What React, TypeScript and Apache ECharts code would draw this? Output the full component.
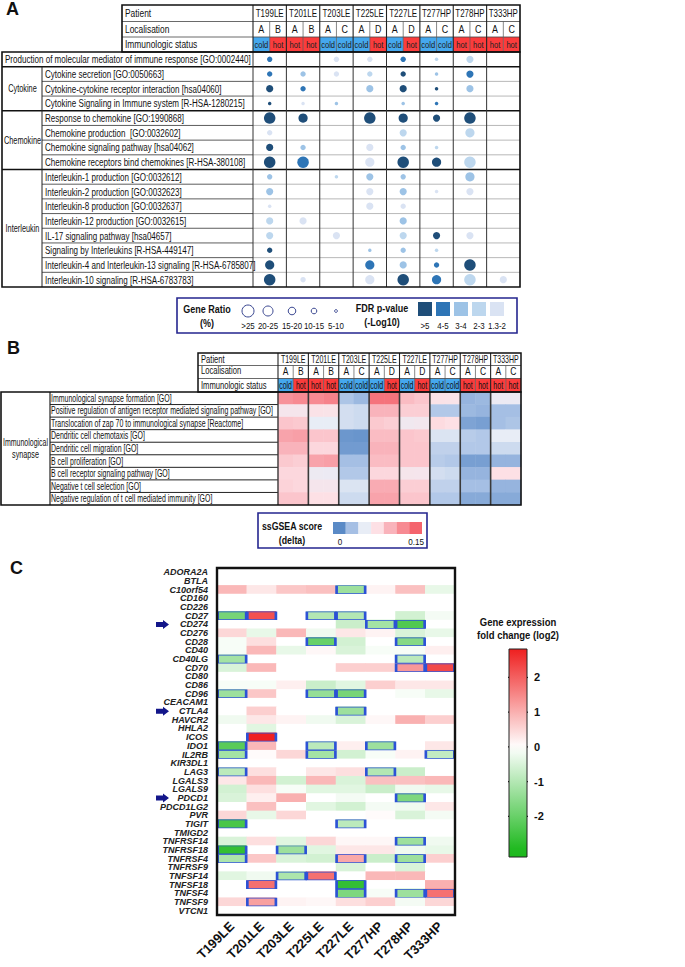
import React, { useEffect, useRef } from 'react';
import * as echarts from 'echarts';

// ---------------- DATA ----------------
const patients = ['T199LE', 'T201LE', 'T203LE', 'T225LE', 'T227LE', 'T277HP', 'T278HP', 'T333HP'];
const localisations = ['A', 'B', 'A', 'B', 'A', 'C', 'A', 'D', 'A', 'D', 'A', 'C', 'A', 'C', 'A', 'C'];
const statuses = ['cold', 'hot', 'hot', 'hot', 'cold', 'cold', 'cold', 'hot', 'cold', 'hot', 'cold', 'cold', 'hot', 'hot', 'hot', 'hot'];

const termsA = [
  'Production of molecular mediator of immune response [GO:0002440]',
  'Cytokine secretion [GO:0050663]',
  'Cytokine-cytokine receptor interaction [hsa04060]',
  'Cytokine Signaling in Immune system [R-HSA-1280215]',
  'Response to chemokine [GO:1990868]',
  'Chemokine production  [GO:0032602]',
  'Chemokine signaling pathway [hsa04062]',
  'Chemokine receptors bind chemokines [R-HSA-380108]',
  'Interleukin-1 production [GO:0032612]',
  'Interleukin-2 production [GO:0032623]',
  'Interleukin-8 production [GO:0032637]',
  'Interleukin-12 production [GO:0032615]',
  'IL-17 signaling pathway [hsa04657]',
  'Signaling by Interleukins [R-HSA-449147]',
  'Interleukin-4 and Interleukin-13 signaling [R-HSA-6785807]',
  'Interleukin-10 signaling [R-HSA-6783783]',
];
const groupsA = [
  { name: '', from: 0, to: 0 },
  { name: 'Cytokine', from: 1, to: 3 },
  { name: 'Chemokine', from: 4, to: 7 },
  { name: 'Interleukin', from: 8, to: 15 },
];
// gene ratio class: 5 = >25, 4 = 20-25, 3 = 15-20, 2 = 10-15, 1 = 5-10, 0 = none
const ratioClass = [
  [2, 0, 2, 2, 2, 1, 3, 0],
  [2, 2, 2, 2, 2, 1, 3, 0],
  [3, 2, 0, 3, 3, 1, 3, 0],
  [1, 1, 1, 0, 1, 1, 0, 0],
  [5, 4, 0, 5, 4, 3, 5, 0],
  [2, 0, 0, 0, 3, 0, 4, 0],
  [3, 2, 0, 3, 2, 1, 0, 0],
  [5, 5, 0, 4, 5, 4, 5, 0],
  [2, 0, 1, 3, 2, 0, 4, 0],
  [3, 0, 0, 3, 3, 1, 3, 0],
  [1, 0, 0, 3, 2, 0, 0, 0],
  [3, 3, 0, 0, 3, 0, 0, 0],
  [3, 0, 3, 0, 3, 3, 3, 0],
  [2, 0, 0, 1, 2, 1, 0, 0],
  [4, 0, 0, 4, 3, 2, 5, 0],
  [5, 2, 0, 4, 5, 4, 5, 3],
];
// FDR class: 5 = >5, 4 = 4-5, 3 = 3-4, 2 = 2-3, 1 = 1.3-2
const fdrClass = [
  [4, 0, 1, 1, 4, 2, 2, 0],
  [4, 3, 1, 2, 5, 3, 4, 0],
  [5, 4, 0, 3, 5, 5, 3, 0],
  [5, 1, 3, 0, 3, 4, 0, 0],
  [5, 5, 0, 5, 5, 5, 5, 0],
  [1, 0, 0, 0, 2, 0, 2, 0],
  [5, 3, 0, 1, 3, 2, 0, 0],
  [5, 4, 0, 1, 5, 5, 2, 0],
  [3, 0, 2, 3, 3, 0, 3, 0],
  [3, 0, 0, 1, 3, 1, 1, 0],
  [1, 0, 0, 1, 1, 0, 0, 0],
  [2, 1, 0, 0, 3, 0, 0, 0],
  [2, 0, 1, 0, 2, 5, 1, 0],
  [5, 0, 0, 3, 3, 2, 0, 0],
  [5, 0, 0, 4, 3, 4, 5, 0],
  [5, 1, 0, 1, 5, 4, 2, 1],
];
const ratioLegend = ['>25', '20-25', '15-20', '10-15', '5-10'];
const fdrLegend = ['>5', '4-5', '3-4', '2-3', '1.3-2'];

const termsB = [
  'Immunological synapse formation [GO]',
  'Positive regulation of antigen receptor mediated signaling pathway [GO]',
  'Translocation of zap 70 to immunological synapse [Reactome]',
  'Dendritic cell chemotaxis [GO]',
  'Dendritic cell migration [GO]',
  'B cell proliferation [GO]',
  'B cell receptor signaling pathway [GO]',
  'Negative t cell selection [GO]',
  'Negative regulation of t cell mediated immunity [GO]',
];
const ssgsea = [
  [0.12, 0.125, 0.125, 0.13, 0.028, 0.022, 0.14, 0.14, 0.095, 0.09, 0.072, 0.07, 0.02, 0.022, 0.055, 0.055],
  [0.065, 0.065, 0.072, 0.07, 0.042, 0.04, 0.1, 0.1, 0.085, 0.085, 0.03, 0.03, 0.022, 0.02, 0.025, 0.025],
  [0.09, 0.088, 0.05, 0.05, 0.042, 0.04, 0.088, 0.085, 0.06, 0.062, 0.078, 0.075, 0.012, 0.01, 0.025, 0.028],
  [0.11, 0.112, 0.09, 0.09, 0.006, 0.005, 0.095, 0.095, 0.09, 0.088, 0.045, 0.045, 0.032, 0.03, 0.05, 0.05],
  [0.1, 0.1, 0.08, 0.08, 0.008, 0.008, 0.1, 0.1, 0.09, 0.09, 0.035, 0.035, 0.03, 0.03, 0.04, 0.04],
  [0.088, 0.085, 0.11, 0.112, 0.025, 0.025, 0.095, 0.095, 0.09, 0.09, 0.032, 0.03, 0.01, 0.01, 0.02, 0.02],
  [0.08, 0.08, 0.056, 0.055, 0.03, 0.03, 0.08, 0.08, 0.066, 0.065, 0.042, 0.04, 0.02, 0.02, 0.075, 0.075],
  [0.082, 0.08, 0.065, 0.065, 0.045, 0.045, 0.105, 0.105, 0.085, 0.085, 0.035, 0.035, 0.025, 0.025, 0.02, 0.02],
  [0.09, 0.09, 0.075, 0.075, 0.04, 0.04, 0.11, 0.11, 0.09, 0.09, 0.03, 0.03, 0.015, 0.015, 0.015, 0.015],
];
const ssgseaColors = ['#5a8ac6', '#a5bfe4', '#e8edf6', '#fde0e5', '#f9b3bb', '#f78a92', '#f4646d'];

const genes = [
  'ADORA2A', 'BTLA', 'C10orf54', 'CD160', 'CD226', 'CD27', 'CD274', 'CD276', 'CD28', 'CD40',
  'CD40LG', 'CD70', 'CD80', 'CD86', 'CD96', 'CEACAM1', 'CTLA4', 'HAVCR2', 'HHLA2', 'ICOS',
  'IDO1', 'IL2RB', 'KIR3DL1', 'LAG3', 'LGALS3', 'LGALS9', 'PDCD1', 'PDCD1LG2', 'PVR', 'TIGIT',
  'TMIGD2', 'TNFRSF14', 'TNFRSF18', 'TNFRSF4', 'TNFRSF9', 'TNFSF14', 'TNFSF18', 'TNFSF4', 'TNFSF9', 'VTCN1',
];
const foldChange = [
  [0, 0, 0, 0, 0, 0, 0, 0],
  [0, 0, 0, 0, 0, 0, 0, 0],
  [0.9, 0.3, 0.7, 0.8, -1.3, 0.15, 0.8, -0.3],
  [0, 0, 0, 0, 0, 0, 0, 0],
  [0, 0, 0, 0, 0, 0, 0, 0],
  [-1.8, 2.2, 0, -1.0, -1.0, 0, -0.6, -0.15],
  [0, 0, 0, 0, -0.7, -1.2, -2.3, 0],
  [0.5, -0.3, 0.9, -0.2, 0.3, 0.15, -0.5, -0.3],
  [-0.1, 0.4, 0, -2.0, -0.6, 0, -1.6, 0],
  [-0.1, 0.9, -0.3, 0.1, -0.5, -0.1, -0.1, 0.2],
  [-1.2, 0, 0, 0, 0, 0, -0.9, 0],
  [-0.5, 0.9, 0, 0, 0.6, 0.6, 1.3, 2.3],
  [0, 0, 0, 0, 0, 0, 0, 0],
  [-0.1, -0.1, 0.2, -0.7, -0.4, 0.6, 0.3, 0.3],
  [-1.3, 0.7, 0, -1.4, -1.8, 0, -0.1, -0.3],
  [0, 0, 0, 0, 0, 0, 0, 0],
  [0, 0.6, 0, 0, -1.3, 0, 0, 0],
  [-0.2, 0.3, 0.15, -0.2, -0.5, 0.1, 1.0, 0.6],
  [0, -0.4, 0, 0, 0, 0, 0, 0],
  [0, 2.8, 0, 0, 0, 0, 0, 0],
  [-2.2, 0.9, 0, -0.9, 0.2, -1.3, 0, 0.3],
  [-1.2, 0.05, 0.5, -1.2, -0.6, -0.1, 0.15, -0.8],
  [0, 0, 0, 0, 0, 0, 0, 0],
  [-0.9, 0.4, 0, 0.3, 0.4, -1.0, -0.7, 0],
  [0.3, 0.9, -0.6, 0.9, -0.5, 0.8, 0.8, 0.9],
  [-0.6, 0.4, -0.1, -0.4, -0.4, -0.7, -0.2, -0.3],
  [-0.5, 0.2, 1.0, 0, -0.15, 0, -1.7, 0],
  [0, 0.8, 0, -0.4, -0.6, -0.15, -0.2, 0.3],
  [0.5, -0.3, 0.5, 0, 0, 0.05, -0.5, -0.15],
  [-2.4, 0, 0, 0, -0.9, 0, 0, 0],
  [0, 0, 0, 0, 0, 0, 0, 0],
  [-0.5, 0.4, -0.4, 0.5, 0.1, 0.1, -1.3, -0.2],
  [-2.7, 0, -1.3, -0.4, 0.3, 0.3, -0.2, -0.3],
  [-1.1, 0.7, -0.5, -0.6, 1.1, -0.7, -1.3, 0.6],
  [0, 0, 0, 0, -0.5, 0, -0.5, 0],
  [-0.4, -0.2, -1.1, 1.8, 0, 0.9, 0.9, 0],
  [0, 1.8, 0, 0, -2.7, 0, 0, 1.0],
  [0, 0, 0, 0, -1.7, -0.1, -1.3, 1.8],
  [0.5, 1.2, 0.15, 0.1, 0.4, 0.6, -0.15, 0.5],
  [0, 0, 0, 0, 0, 0, 0, 0],
];
const significant: [string, string][] = [
  ['C10orf54', 'T227LE'],
  ['CD27', 'T199LE'], ['CD27', 'T201LE'], ['CD27', 'T225LE'], ['CD27', 'T227LE'],
  ['CD274', 'T277HP'], ['CD274', 'T278HP'],
  ['CD28', 'T225LE'], ['CD28', 'T278HP'],
  ['CD40LG', 'T199LE'], ['CD40LG', 'T278HP'],
  ['CD70', 'T278HP'], ['CD70', 'T333HP'],
  ['CD96', 'T199LE'], ['CD96', 'T225LE'], ['CD96', 'T227LE'],
  ['CTLA4', 'T227LE'],
  ['ICOS', 'T201LE'],
  ['IDO1', 'T199LE'], ['IDO1', 'T225LE'], ['IDO1', 'T277HP'],
  ['IL2RB', 'T199LE'], ['IL2RB', 'T225LE'], ['IL2RB', 'T333HP'],
  ['LAG3', 'T199LE'], ['LAG3', 'T277HP'],
  ['PDCD1', 'T278HP'],
  ['TIGIT', 'T199LE'], ['TIGIT', 'T227LE'],
  ['TNFRSF14', 'T278HP'],
  ['TNFRSF18', 'T199LE'], ['TNFRSF18', 'T203LE'],
  ['TNFRSF4', 'T199LE'], ['TNFRSF4', 'T227LE'], ['TNFRSF4', 'T278HP'],
  ['TNFSF14', 'T203LE'], ['TNFSF14', 'T225LE'],
  ['TNFSF18', 'T201LE'], ['TNFSF18', 'T227LE'],
  ['TNFSF4', 'T227LE'], ['TNFSF4', 'T278HP'], ['TNFSF4', 'T333HP'],
  ['TNFSF9', 'T201LE'],
];
const arrowGenes = ['CD274', 'CTLA4', 'PDCD1'];
const colorbarTicks = [2, 1, 0, -1, -2];

// ---------------- STYLE / LAYOUT ----------------
const FONT = '"Liberation Sans", Arial, sans-serif';
const COLD = '#45a8ee';
const HOT = '#fb3c3c';
const DOT_SIZE = [0, 3.5, 5.4, 7.2, 9.2, 11.5];
const DOT_COLOR = ['#fff', '#dae3f3', '#bdd7ee', '#9dc3e6', '#2e75b6', '#1f4e79'];
const LEG_R = [6, 5, 3.8, 2.8, 1.4];

const GREEN = [28, 184, 28];
const WHITE = [255, 255, 255];
const RED = [238, 17, 17];
function heatColor(v: number) {
  const c = Math.max(-3, Math.min(3, v)) / 3;
  const a = c < 0 ? GREEN : RED;
  const t = Math.abs(c);
  const m = WHITE.map((w, i) => Math.round(w + (a[i] - w) * t));
  return `rgb(${m[0]},${m[1]},${m[2]})`;
}

// panel A
const AX0 = 2, AXL = 42, AXC = 253, AXR = 520, AHX = 122;
const ACW = (AXR - AXC) / 8;
const AH = [5, 21.5, 37, 52];
const ABY0 = 52, ABY1 = 287;
const ARH = (ABY1 - ABY0) / termsA.length;
// panel B
const BX0 = 1, BXL = 50, BXC = 278, BXR = 521, BHX = 198;
const BCW = (BXR - BXC) / 8;
const BH = [353, 365.5, 378.5, 392];
const BBY0 = 392, BBY1 = 505;
const BRH = (BBY1 - BBY0) / termsB.length;
// panel C
const CGL = 217, CGT = 568, CGW = 238, CGH = 347;
const CB = { x: 509, y: 649, w: 18, h: 208, max: 2.82, min: -3.17 };

function buildGraphics(arrowYs: number[]) {
  const els: any[] = [];
  const T = (x: number, y: number, text: string, o: any = {}) =>
    els.push({
      type: 'text', x, y, scaleX: o.sx ?? 1, z: 120, silent: true,
      style: {
        text, fontSize: o.fs ?? 10, fontFamily: FONT, fontWeight: o.fw ?? 'normal',
        fontStyle: o.fst ?? 'normal', fill: o.fill ?? '#111', align: o.align ?? 'left',
        verticalAlign: 'middle',
      },
    });
  const L = (x1: number, y1: number, x2: number, y2: number, stroke = '#000', w = 1) =>
    els.push({ type: 'line', z: 110, silent: true, shape: { x1, y1, x2, y2 }, style: { stroke, lineWidth: w } });
  const R = (x: number, y: number, w: number, h: number, fill: any, stroke?: string, lw?: number, z = 50) =>
    els.push({ type: 'rect', z, silent: true, shape: { x, y, width: w, height: h }, style: { fill, stroke, lineWidth: lw } });

  // ===== Panel labels =====
  T(6, 9, 'A', { fs: 18, fw: 'bold' });
  T(7, 348, 'B', { fs: 18, fw: 'bold' });
  T(10, 568, 'C', { fs: 18, fw: 'bold' });

  // ===== Panel A header =====
  statuses.forEach((s, i) => R(AXC + (i * ACW) / 2, AH[2], ACW / 2, AH[3] - AH[2], s === 'cold' ? COLD : HOT));
  T(AHX + 3, (AH[0] + AH[1]) / 2, 'Patient', { fs: 10.5, sx: 0.8 });
  T(AHX + 3, (AH[1] + AH[2]) / 2, 'Localisation', { fs: 10.5, sx: 0.8 });
  T(AHX + 3, (AH[2] + AH[3]) / 2, 'Immunologic status', { fs: 10.5, sx: 0.8 });
  patients.forEach((p, i) => T(AXC + (i + 0.5) * ACW, (AH[0] + AH[1]) / 2, p, { fs: 10.5, sx: 0.76, align: 'center' }));
  localisations.forEach((l, i) => T(AXC + (i + 0.5) * ACW / 2, (AH[1] + AH[2]) / 2, l, { fs: 10.5, sx: 0.85, align: 'center' }));
  statuses.forEach((s, i) => T(AXC + (i + 0.5) * ACW / 2, (AH[2] + AH[3]) / 2, s, { fs: 9.5, sx: 0.8, align: 'center', fill: '#222' }));
  for (let k = 1; k < 3; k++) L(AHX, AH[k], AXR, AH[k], '#444', 0.8);
  for (let i = 1; i < 16; i++) {
    const x = AXC + (i * ACW) / 2;
    L(x, i % 2 === 0 ? AH[0] : AH[1], x, AH[3], i % 2 === 0 ? '#222' : '#555', i % 2 === 0 ? 1.1 : 0.7);
  }
  L(AXC, AH[0], AXC, AH[3], '#222', 1.1);
  R(AHX, AH[0], AXR - AHX, AH[3] - AH[0], 'none', '#111', 1.6, 115);

  // ===== Panel A body =====
  const rowY = (r: number) => ABY0 + r * ARH;
  termsA.forEach((t, r) => T((r === 0 ? AX0 : AXL) + 3, rowY(r) + ARH / 2, t, { fs: 10.8, sx: 0.745 }));
  groupsA.forEach((g) => {
    if (g.name) T((AX0 + AXL) / 2 + 0.5, (rowY(g.from) + rowY(g.to + 1)) / 2, g.name, { fs: 10.5, sx: 0.7, align: 'center' });
  });
  const groupStarts = groupsA.map((g) => g.from);
  for (let r = 1; r < termsA.length; r++) {
    const y = rowY(r);
    if (groupStarts.includes(r)) L(AX0, y, AXR, y, '#111', 1.6);
    else {
      L(AXL, y, AXC, y, '#333', 0.8);
      L(AXC, y, AXR, y, '#999', 0.7);
    }
  }
  L(AXL, rowY(1), AXL, ABY1, '#222', 1);
  for (let i = 0; i < 8; i++) L(AXC + i * ACW, ABY0, AXC + i * ACW, ABY1, '#333', 1);
  R(AX0, ABY0, AXR - AX0, ABY1 - ABY0, 'none', '#111', 1.6, 115);

  // ===== Panel A legend =====
  R(177, 298, 340, 35, 'none', '#25268f', 1.6, 115);
  T(207, 309, 'Gene Ratio', { fs: 10, fw: 'bold', sx: 0.9, align: 'center' });
  T(207, 323, '(%)', { fs: 10, fw: 'bold', sx: 0.9, align: 'center' });
  const cx = [248, 268, 292, 314, 336];
  ratioLegend.forEach((lab, i) => {
    els.push({ type: 'circle', z: 120, silent: true, shape: { cx: cx[i], cy: 311, r: LEG_R[i] }, style: { fill: 'none', stroke: '#3a4791', lineWidth: 1 } });
    T(cx[i], 326, lab, { fs: 9, sx: 0.88, align: 'center' });
  });
  T(382, 308, 'FDR p-value', { fs: 10, fw: 'bold', sx: 0.9, align: 'center' });
  T(382, 322, '(-Log10)', { fs: 10, fw: 'bold', sx: 0.9, align: 'center' });
  fdrLegend.forEach((lab, i) => {
    const x = 418 + i * 18;
    R(x, 302, 14, 14, DOT_COLOR[5 - i], undefined, undefined, 120);
    T(x + 7, 326, lab, { fs: 9, sx: 0.88, align: 'center' });
  });

  // ===== Panel B header =====
  statuses.forEach((s, i) => R(BXC + (i * BCW) / 2, BH[2], BCW / 2, BH[3] - BH[2], s === 'cold' ? COLD : HOT));
  T(BHX + 3, (BH[0] + BH[1]) / 2, 'Patient', { fs: 10, sx: 0.76 });
  T(BHX + 3, (BH[1] + BH[2]) / 2 - 1, 'Localisation', { fs: 10, sx: 0.76 });
  T(BHX + 3, (BH[2] + BH[3]) / 2, 'Immunologic status', { fs: 10, sx: 0.76 });
  patients.forEach((p, i) => T(BXC + (i + 0.5) * BCW, (BH[0] + BH[1]) / 2, p, { fs: 10, sx: 0.7, align: 'center' }));
  localisations.forEach((l, i) => T(BXC + (i + 0.5) * BCW / 2, (BH[1] + BH[2]) / 2, l, { fs: 10, sx: 0.85, align: 'center' }));
  statuses.forEach((s, i) => T(BXC + (i + 0.5) * BCW / 2, (BH[2] + BH[3]) / 2, s, { fs: 10, sx: 0.7, align: 'center', fill: '#111' }));
  for (let k = 1; k < 3; k++) L(BHX, BH[k], BXR, BH[k], '#444', 0.8);
  for (let i = 1; i < 16; i++) {
    const x = BXC + (i * BCW) / 2;
    L(x, i % 2 === 0 ? BH[0] : BH[1], x, BH[3], i % 2 === 0 ? '#222' : '#555', i % 2 === 0 ? 1.1 : 0.7);
  }
  L(BXC, BH[0], BXC, BH[3], '#222', 1.1);
  R(BHX, BH[0], BXR - BHX, BH[3] - BH[0], 'none', '#111', 1.5, 115);

  // ===== Panel B body =====
  const rowYB = (r: number) => BBY0 + r * BRH;
  termsB.forEach((t, r) => T(BXL + 1, rowYB(r) + BRH / 2, t, { fs: 10.2, sx: 0.685 }));
  T((BX0 + BXL) / 2, (BBY0 + BBY1) / 2 - 6, 'Immunological', { fs: 10, sx: 0.7, align: 'center' });
  T((BX0 + BXL) / 2, (BBY0 + BBY1) / 2 + 6, 'synapse', { fs: 10, sx: 0.72, align: 'center' });
  for (let r = 1; r < termsB.length; r++) L(BXL, rowYB(r), BXC, rowYB(r), '#222', 1);
  L(BXL, BBY0, BXL, BBY1, '#222', 1.2);
  for (let i = 0; i < 8; i++) L(BXC + i * BCW, BBY0, BXC + i * BCW, BBY1, '#3a3a3a', i === 0 ? 1.4 : 1.6);
  R(BX0, BBY0, BXR - BX0, BBY1 - BBY0, 'none', '#111', 1.6, 115);

  // ===== Panel B legend =====
  R(258, 513, 169, 35, 'none', '#25268f', 1.6, 115);
  T(292, 526, 'ssGSEA score', { fs: 10, fw: 'bold', sx: 0.88, align: 'center' });
  T(292, 540, '(delta)', { fs: 10, fw: 'bold', sx: 0.88, align: 'center' });
  ssgseaColors.forEach((c, i) => R(333 + i * 12.7, 522, 12.8, 12, c, undefined, undefined, 120));
  T(340, 542, '0', { fs: 9, sx: 0.9, align: 'center' });
  T(416, 542, '0.15', { fs: 9, sx: 0.9, align: 'center' });

  // ===== Panel C border, arrows, colorbar =====
  R(CGL, CGT, CGW, CGH, 'none', '#111', 2.4, 115);
  arrowYs.forEach((y) => {
    els.push({
      type: 'polygon', z: 120, silent: true,
      shape: { points: [[156, y - 2.5], [163, y - 2.5], [163, y - 4.5], [169, y], [163, y + 4.5], [163, y + 2.5], [156, y + 2.5]] },
      style: { fill: '#13168a' },
    });
  });
  T(518, 622, 'Gene expression', { fs: 10, fw: 'bold', sx: 0.95, align: 'center' });
  T(518, 635, 'fold change (log2)', { fs: 10, fw: 'bold', sx: 0.95, align: 'center' });
  const stops: any[] = [];
  for (let k = 0; k <= 24; k++) {
    const v = CB.max - (k / 24) * (CB.max - CB.min);
    stops.push({ offset: k / 24, color: heatColor(v) });
  }
  R(CB.x, CB.y, CB.w, CB.h, { type: 'linear', x: 0, y: 0, x2: 0, y2: 1, colorStops: stops }, '#222', 1, 120);
  colorbarTicks.forEach((v) => {
    const y = CB.y + ((CB.max - v) / (CB.max - CB.min)) * CB.h;
    L(CB.x - 1, y, CB.x + 3, y, '#111', 1.2);
    L(CB.x + CB.w - 3, y, CB.x + CB.w + 1, y, '#111', 1.2);
    T(CB.x + CB.w + 7, y, String(v), { fs: 11, fw: 'bold' });
  });
  return els;
}

export default function App() {
  const ref = useRef<HTMLDivElement>(null);
  useEffect(() => {
    if (!ref.current) return;
    const chart = echarts.init(ref.current, undefined, { renderer: 'svg' });

    const dotData: any[] = [];
    ratioClass.forEach((row, r) =>
      row.forEach((s, p) => {
        if (s > 0) dotData.push([patients[p], termsA[r], s, fdrClass[r][p]]);
      })
    );
    const subCols = localisations.map((l, i) => `${patients[Math.floor(i / 2)]}-${l}`);
    const heatB: any[] = [];
    ssgsea.forEach((row, r) => row.forEach((v, c) => heatB.push([subCols[c], termsB[r], v])));
    const heatC: any[] = [];
    foldChange.forEach((row, g) => row.forEach((v, p) => heatC.push([patients[p], genes[g], v])));
    const sigData = significant.map(([g, p]) => [p, g]);

    const hidden = { show: false };
    const option: any = {
      animation: false,
      backgroundColor: '#ffffff',
      grid: [
        { left: AXC, top: ABY0, width: AXR - AXC, height: ABY1 - ABY0 },
        { left: BXC, top: BBY0, width: BXR - BXC, height: BBY1 - BBY0 },
        { left: CGL, top: CGT, width: CGW, height: CGH },
      ],
      xAxis: [
        { type: 'category', gridIndex: 0, data: patients, ...hidden },
        { type: 'category', gridIndex: 1, data: subCols, ...hidden },
        {
          type: 'category', gridIndex: 2, data: patients, position: 'bottom',
          axisLine: { show: false }, axisTick: { show: false }, splitLine: { show: false },
          axisLabel: { interval: 0, rotate: 45, margin: 9, fontSize: 13, fontWeight: 'bold', color: '#111', fontFamily: FONT },
        },
      ],
      yAxis: [
        { type: 'category', gridIndex: 0, data: termsA, inverse: true, ...hidden },
        { type: 'category', gridIndex: 1, data: termsB, inverse: true, ...hidden },
        {
          type: 'category', gridIndex: 2, data: genes, inverse: true,
          axisLine: { show: false }, axisTick: { show: false }, splitLine: { show: false },
          axisLabel: { interval: 0, margin: 9, fontSize: 9, fontWeight: 'bold', fontStyle: 'italic', color: '#222', fontFamily: FONT },
        },
      ],
      visualMap: [
        { type: 'continuous', seriesIndex: 1, min: 0, max: 0.15, show: false, inRange: { color: ssgseaColors } },
        { type: 'continuous', seriesIndex: 2, min: -3, max: 3, show: false, inRange: { color: [heatColor(-3), heatColor(0), heatColor(3)] } },
      ],
      series: [
        {
          type: 'scatter', xAxisIndex: 0, yAxisIndex: 0, data: dotData, z: 60,
          symbolSize: (v: any) => DOT_SIZE[v[2]],
          itemStyle: { color: (p: any) => DOT_COLOR[p.data[3]], opacity: 1 },
        },
        { type: 'heatmap', xAxisIndex: 1, yAxisIndex: 1, data: heatB, z: 2 },
        { type: 'heatmap', xAxisIndex: 2, yAxisIndex: 2, data: heatC, z: 2 },
        {
          type: 'scatter', xAxisIndex: 2, yAxisIndex: 2, data: sigData, z: 8,
          symbol: 'rect', symbolSize: [CGW / 8 - 1.2, CGH / genes.length - 0.8],
          itemStyle: { color: 'rgba(0,0,0,0)', borderColor: '#2c52d6', borderWidth: 1.4, opacity: 1 },
        },
      ],
    };
    chart.setOption(option);
    const arrowYs = arrowGenes.map((g) => (chart.convertToPixel({ xAxisIndex: 2, yAxisIndex: 2 } as any, [patients[0], g]) as number[])[1]);
    chart.setOption({ graphic: { elements: buildGraphics(arrowYs) } });
    return () => chart.dispose();
  }, []);
  return <div ref={ref} style={{ position: 'absolute', left: 0, top: 0, width: 685, height: 967 }} />;
}
